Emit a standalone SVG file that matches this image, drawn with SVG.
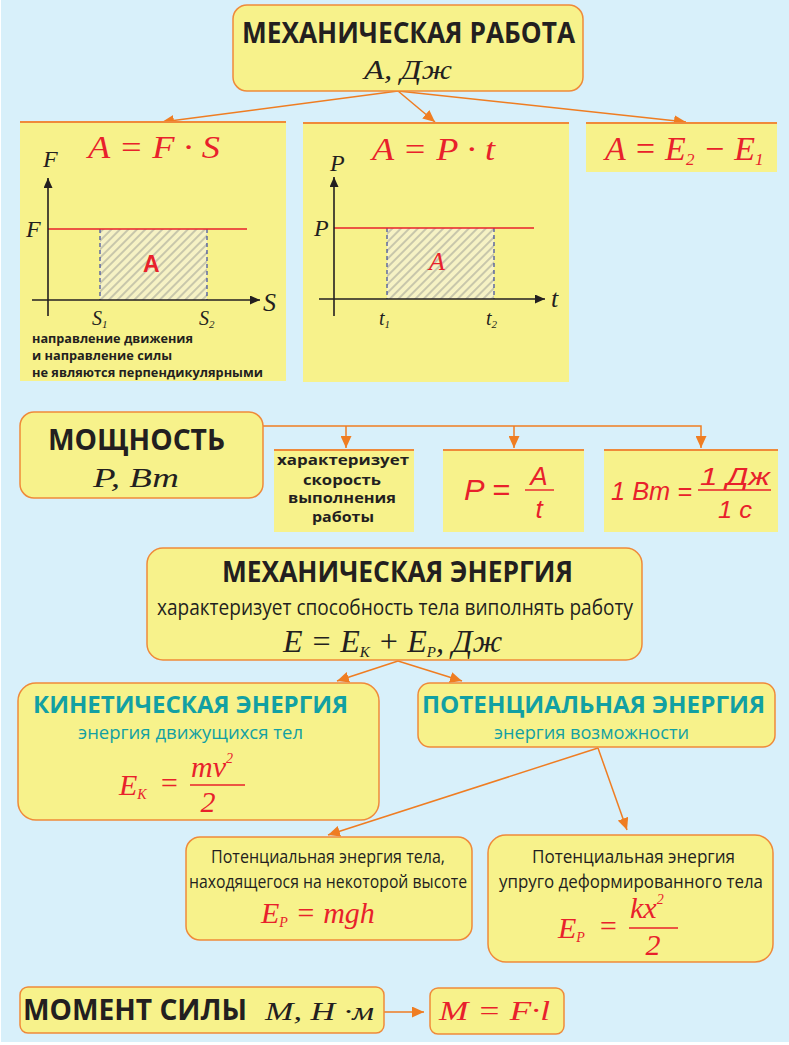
<svg xmlns="http://www.w3.org/2000/svg" width="789" height="1045" viewBox="0 0 789 1045">
<style>
.box{fill:#f7f28b;stroke:#ef8a3a;stroke-width:1.5}
.panel{fill:#f7f28b}
.ptop{stroke:#ef8a3a;stroke-width:2}
.conn{stroke:#ef7d22;stroke-width:1.5;fill:none;marker-end:url(#ah)}
.h{font-family:"Open Sans","Liberation Sans",sans-serif;font-weight:bold;fill:#231f20}
.n{font-family:"Open Sans","Liberation Sans",sans-serif;fill:#231f20}
.teal{fill:#12a0a3}
.m{font-family:"Liberation Serif",serif;font-style:italic;fill:#231f20}
.ms{font-family:"Liberation Sans",sans-serif;font-style:italic}
.red{fill:#e8212b}
.ax{stroke:#231f20;stroke-width:1.6;marker-end:url(#ax)}
.dash{stroke:#3b4aa0;stroke-width:1.2;stroke-dasharray:4 3}
.rl{stroke:#e8212b;stroke-width:1.5}
.bar{stroke:#e8212b;stroke-width:1.4}
</style>
<defs>
<marker id="ah" markerUnits="userSpaceOnUse" markerWidth="13" markerHeight="11" refX="12" refY="5.5" orient="auto"><path d="M0,0 L12,5.5 L0,11 z" fill="#ef7d22"/></marker>
<marker id="ax" markerUnits="userSpaceOnUse" markerWidth="11" markerHeight="9" refX="10" refY="4.5" orient="auto"><path d="M0,0 L10,4.5 L0,9 z" fill="#231f20"/></marker>
<pattern id="hatch" patternUnits="userSpaceOnUse" width="6" height="6" patternTransform="rotate(45)"><line x1="1" y1="0" x2="1" y2="6" stroke="#aaa99a" stroke-width="1.2"/></pattern>
</defs>
<rect width="789" height="1045" fill="#ffffff"/>
<rect x="1" y="0" width="788" height="1042" fill="#d8f0fa"/>

<g id="connectors">
<line class="conn" x1="398" y1="91" x2="162" y2="122"/>
<line class="conn" x1="398" y1="91" x2="435" y2="122"/>
<line class="conn" x1="398" y1="91" x2="686" y2="122"/>
<path class="conn" d="M263,426 H701 V448"/>
<line class="conn" x1="346" y1="426" x2="346" y2="448"/>
<line class="conn" x1="514" y1="426" x2="514" y2="448"/>
<line class="conn" x1="398" y1="661" x2="337" y2="681"/>
<line class="conn" x1="398" y1="661" x2="462" y2="681"/>
<line class="conn" x1="598" y1="748" x2="328" y2="835"/>
<line class="conn" x1="598" y1="748" x2="627" y2="830"/>
<line class="conn" x1="384" y1="1012" x2="424" y2="1012"/>
</g>

<g id="work">
<rect class="box" x="233" y="5" width="350" height="86" rx="14"/>
<text class="h" x="242" y="43" font-size="28" textLength="333" lengthAdjust="spacingAndGlyphs">МЕХАНИЧЕСКАЯ РАБОТА</text>
<text class="m" x="364" y="79" font-size="28" textLength="88" lengthAdjust="spacingAndGlyphs">А, Дж</text>
</g>

<g id="panel-fs">
<rect class="panel" x="20" y="122" width="266" height="259"/>
<line class="ptop" x1="20" y1="122" x2="286" y2="122"/>
<text class="m red" x="88" y="158" font-size="32" textLength="132" lengthAdjust="spacingAndGlyphs">A = F · S</text>
<rect x="100" y="229" width="107" height="71" fill="#f6f2c4"/>
<rect x="100" y="229" width="107" height="71" fill="url(#hatch)"/>
<line class="dash" x1="100" y1="229" x2="100" y2="300"/>
<line class="dash" x1="207" y1="229" x2="207" y2="300"/>
<line class="rl" x1="48" y1="229" x2="247" y2="229"/>
<line class="ax" x1="48" y1="316" x2="48" y2="178"/>
<line class="ax" x1="32" y1="300" x2="260" y2="300"/>
<text class="m" x="43" y="167" font-size="24">F</text>
<text class="m" x="26" y="237" font-size="24">F</text>
<text class="m" x="263" y="311" font-size="26">S</text>
<text class="m" x="92" y="325" font-size="20">S<tspan font-size="11" dy="3">1</tspan></text>
<text class="m" x="199" y="325" font-size="20">S<tspan font-size="11" dy="3">2</tspan></text>
<text x="143" y="272" font-family="Liberation Sans,sans-serif" font-weight="bold" font-size="23" fill="#e8212b">A</text>
<text class="h" x="32" y="343" font-size="13" textLength="161" lengthAdjust="spacingAndGlyphs">направление движения</text>
<text class="h" x="32" y="360" font-size="13" textLength="140" lengthAdjust="spacingAndGlyphs">и направление силы</text>
<text class="h" x="32" y="377" font-size="13" textLength="231" lengthAdjust="spacingAndGlyphs">не являются перпендикулярными</text>
</g>

<g id="panel-pt">
<rect class="panel" x="303" y="123" width="266" height="259"/>
<line class="ptop" x1="303" y1="123" x2="569" y2="123"/>
<text class="m red" x="372" y="160" font-size="32" textLength="123" lengthAdjust="spacingAndGlyphs">A = P · t</text>
<rect x="387" y="228" width="107" height="71" fill="#f6f2c4"/>
<rect x="387" y="228" width="107" height="71" fill="url(#hatch)"/>
<line class="dash" x1="387" y1="228" x2="387" y2="299"/>
<line class="dash" x1="494" y1="228" x2="494" y2="299"/>
<line class="rl" x1="334" y1="228" x2="534" y2="228"/>
<line class="ax" x1="334" y1="316" x2="334" y2="177"/>
<line class="ax" x1="319" y1="299" x2="545" y2="299"/>
<text class="m" x="330" y="171" font-size="24">P</text>
<text class="m" x="314" y="236" font-size="24">P</text>
<text class="m" x="551" y="307" font-size="26">t</text>
<text class="m" x="379" y="325" font-size="20">t<tspan font-size="11" dy="3">1</tspan></text>
<text class="m" x="486" y="325" font-size="20">t<tspan font-size="11" dy="3">2</tspan></text>
<text class="m red" x="429" y="270" font-size="26">A</text>
</g>

<g id="panel-e">
<rect class="panel" x="586" y="123" width="191" height="49"/>
<line class="ptop" x1="586" y1="123" x2="777" y2="123"/>
<text class="m red" x="605" y="160" font-size="34">A = E<tspan font-size="17" dy="5">2</tspan><tspan dy="-5"> − E</tspan><tspan font-size="17" dy="5">1</tspan></text>
</g>

<g id="power">
<rect class="box" x="20" y="412" width="243" height="86" rx="14"/>
<text class="h" x="48" y="450" font-size="28" textLength="177" lengthAdjust="spacingAndGlyphs">МОЩНОСТЬ</text>
<text class="m" x="93" y="487" font-size="28" textLength="86" lengthAdjust="spacingAndGlyphs">P, Вт</text>
</g>

<g id="power-speed">
<rect class="panel" x="274" y="450" width="140" height="82"/>
<line class="ptop" x1="274" y1="450" x2="414" y2="450"/>
<text class="h" x="343" y="465" font-size="14" text-anchor="middle" textLength="132" lengthAdjust="spacingAndGlyphs">характеризует</text>
<text class="h" x="342" y="485" font-size="14" text-anchor="middle" textLength="78" lengthAdjust="spacingAndGlyphs">скорость</text>
<text class="h" x="342" y="503" font-size="14" text-anchor="middle" textLength="108" lengthAdjust="spacingAndGlyphs">выполнения</text>
<text class="h" x="343" y="522" font-size="14" text-anchor="middle" textLength="62" lengthAdjust="spacingAndGlyphs">работы</text>
</g>

<g id="power-formula">
<rect class="panel" x="443" y="450" width="141" height="82"/>
<line class="ptop" x1="443" y1="450" x2="584" y2="450"/>
<text class="ms red" x="464" y="500" font-size="30" textLength="46" lengthAdjust="spacingAndGlyphs">P =</text>
<text class="ms red" x="539" y="485" font-size="26" text-anchor="middle">A</text>
<line class="bar" x1="525" y1="490" x2="554" y2="490"/>
<text class="ms red" x="539" y="518" font-size="26" text-anchor="middle">t</text>
</g>

<g id="power-unit">
<rect class="panel" x="604" y="450" width="174" height="82"/>
<line class="ptop" x1="604" y1="450" x2="778" y2="450"/>
<text class="ms red" x="611" y="500" font-size="26" textLength="81" lengthAdjust="spacingAndGlyphs">1 Вт =</text>
<text class="ms red" x="700" y="485" font-size="24" textLength="70" lengthAdjust="spacingAndGlyphs">1 Дж</text>
<line class="bar" x1="698" y1="490" x2="771" y2="490"/>
<text class="ms red" x="735" y="518" font-size="24" text-anchor="middle" textLength="34" lengthAdjust="spacingAndGlyphs">1 с</text>
</g>

<g id="mech-energy">
<rect class="box" x="147" y="548" width="495" height="112" rx="16"/>
<text class="h" x="222" y="582" font-size="28" textLength="351" lengthAdjust="spacingAndGlyphs">МЕХАНИЧЕСКАЯ ЭНЕРГИЯ</text>
<text class="n" x="157" y="615" font-size="22" textLength="476" lengthAdjust="spacingAndGlyphs">характеризует способность тела виполнять работу</text>
<text class="m" x="283" y="652" font-size="32">E = E<tspan font-size="15" dy="5">K</tspan><tspan dy="-5"> + E</tspan><tspan font-size="15" dy="5">P</tspan><tspan dy="-5">, Дж</tspan></text>
</g>

<g id="kinetic">
<rect class="box" x="18" y="683" width="361" height="137" rx="18"/>
<text class="h teal" x="33" y="713" font-size="23" textLength="315" lengthAdjust="spacingAndGlyphs">КИНЕТИЧЕСКАЯ ЭНЕРГИЯ</text>
<text class="n teal" x="78" y="739" font-size="18" textLength="225" lengthAdjust="spacingAndGlyphs">энергия движущихся тел</text>
<text class="m red" x="119" y="795" font-size="30">E<tspan font-size="14" dy="4">K</tspan></text>
<text class="m red" x="159" y="793" font-size="30">=</text>
<text class="m red" x="191" y="777" font-size="30">mv<tspan font-size="14" dy="-14">2</tspan></text>
<line class="bar" x1="190" y1="785" x2="245" y2="785"/>
<text class="m red" x="208" y="812" font-size="30" text-anchor="middle">2</text>
</g>

<g id="potential">
<rect class="box" x="418" y="683" width="357" height="64" rx="12"/>
<text class="h teal" x="422" y="713" font-size="23" textLength="343" lengthAdjust="spacingAndGlyphs">ПОТЕНЦИАЛЬНАЯ ЭНЕРГИЯ</text>
<text class="n teal" x="494" y="739" font-size="18" textLength="195" lengthAdjust="spacingAndGlyphs">энергия возможности</text>
</g>

<g id="gravity">
<rect class="box" x="186" y="837" width="286" height="103" rx="14"/>
<text class="n" x="211" y="863" font-size="19" textLength="234" lengthAdjust="spacingAndGlyphs">Потенциальная энергия тела,</text>
<text class="n" x="189" y="888" font-size="19" textLength="278" lengthAdjust="spacingAndGlyphs">находящегося на некоторой высоте</text>
<text class="m red" x="261" y="923" font-size="30">E<tspan font-size="14" dy="4">P</tspan><tspan dy="-4"> = mgh</tspan></text>
</g>

<g id="spring">
<rect class="box" x="488" y="835" width="285" height="127" rx="18"/>
<text class="n" x="532" y="863" font-size="19" textLength="203" lengthAdjust="spacingAndGlyphs">Потенциальная энергия</text>
<text class="n" x="499" y="888" font-size="18" textLength="264" lengthAdjust="spacingAndGlyphs">упруго деформированного тела</text>
<text class="m red" x="558" y="938" font-size="30">E<tspan font-size="14" dy="4">P</tspan></text>
<text class="m red" x="598" y="936" font-size="30">=</text>
<text class="m red" x="630" y="918" font-size="30">kx<tspan font-size="14" dy="-14">2</tspan></text>
<line class="bar" x1="629" y1="928" x2="678" y2="928"/>
<text class="m red" x="653" y="955" font-size="30" text-anchor="middle">2</text>
</g>

<g id="moment">
<rect class="box" x="20" y="987" width="364" height="46" rx="8"/>
<text class="h" x="23" y="1020" font-size="28" textLength="224" lengthAdjust="spacingAndGlyphs">МОМЕНТ СИЛЫ</text>
<text class="m" x="265" y="1020" font-size="26" textLength="109" lengthAdjust="spacingAndGlyphs">M, Н ·м</text>
</g>

<g id="moment-formula">
<rect class="box" x="430" y="988" width="134" height="46" rx="8"/>
<text class="m red" x="439" y="1020" font-size="28" textLength="111" lengthAdjust="spacingAndGlyphs">M = F·l</text>
</g>
</svg>
